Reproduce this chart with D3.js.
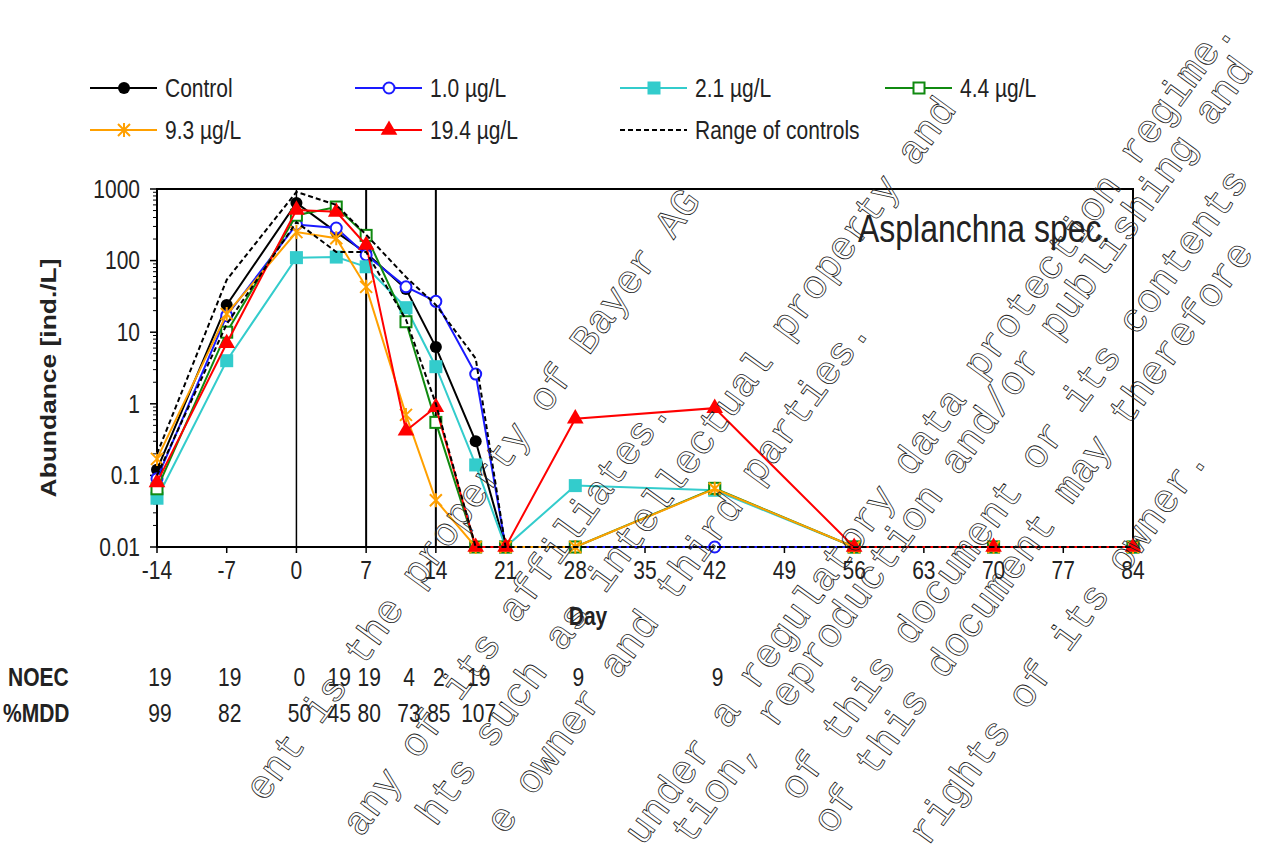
<!DOCTYPE html>
<html>
<head>
<meta charset="utf-8">
<script src="https://cdn.jsdelivr.net/npm/d3@7"></script>
<style>
  body { margin: 0; background: #fff; }
</style>
</head>
<body>
<div id="chart"></div>
<script>
// sampling days
const days = [-14, -7, 0, 4, 7, 11, 14, 18, 21, 28, 42, 56, 70, 84];

// abundance (ind./L), zero counts drawn at 0.01
const control = [0.12, 24, 640, 250, 128, 40, 6.2, 0.3, 0.01, 0.01, 0.01, 0.01, 0.01, 0.01];
const conc10 = [0.09, 17, 320, 285, 120, 43, 27, 2.6, 0.01, 0.01, 0.01, 0.01, 0.01, 0.01];
const conc21 = [0.048, 4.0, 110, 112, 82, 22, 3.3, 0.14, 0.01, 0.072, 0.062, 0.01, 0.01, 0.01];
const conc44 = [0.065, 10, 430, 560, 225, 14, 0.55, 0.01, 0.01, 0.01, 0.066, 0.01, 0.01, 0.01];
const conc93 = [0.17, 18, 250, 205, 43, 0.7, 0.045, 0.01, 0.01, 0.01, 0.065, 0.01, 0.01, 0.01];
const conc194 = [0.08, 7, 510, 480, 165, 0.42, 0.9, 0.01, 0.01, 0.62, 0.87, 0.01, 0.01, 0.01];
const rangeHigh = [0.2, 54, 910, 600, 230, 59, 24, 4.3, 0.01, 0.01, 0.01, 0.01, 0.01, 0.01];
const rangeLow = [0.1, 13, 345, 132, 132, 15, 1.0, 0.01, 0.01, 0.01, 0.01, 0.01, 0.01, 0.01];

const seriesNames = ["Control", "1.0 µg/L", "2.1 µg/L", "4.4 µg/L", "9.3 µg/L", "19.4 µg/L"];
const seriesColors = ["#000000", "#1a1aff", "#33cccc", "#108a10", "#ffa000", "#ff0000"];
const seriesMarkers = ["dot", "ring", "square", "box", "star", "triangle"];

const xTicks = d3.range(-14, 85, 7);
const yTicks = [0.01, 0.1, 1, 10, 100, 1000];
const yTickLabels = ["0.01", "0.1", "1", "10", "100", "1000"];

const noecDays = [-14, -7, 0, 4, 7, 11, 14, 18, 28, 42];
const noecValues = ["19", "19", "0", "19", "19", "4", "2", "19", "9", "9"];
const mddDays = [-14, -7, 0, 4, 7, 11, 14, 18];
const mddValues = ["99", "82", "50", "45", "80", "73", "85", "107"];

// the parts of the diagonal notice that show on the page
const watermarkLines = [
  "ent is the property of Bayer AG",
  "any of its affiliates.",
  "hts such as intellectual property and",
  "e owner and third parties.",
  "under a regulatory data protection regime.",
  "tion, reproduction and/or publishing and",
  "of this document or its contents",
  "of this document may therefore",
  "rights of its owner."
];
// where each watermark line ends on the page
const watermarkEnds = [[692, 194], [662, 404], [948, 102], [862, 324], [1226, 24],
  [1245, 62], [1240, 174], [1245, 246], [1200, 452]];

const width = 1271, height = 855;
const font = "'Liberation Sans', Arial, sans-serif";
const sy = 1.2; // the source picture is a bit taller than wide

const svg = d3.select("#chart").append("svg")
  .attr("width", width)
  .attr("height", height);

const x = d3.scaleLinear().domain([-14, 84]).range([157, 1133]);
const y = d3.scaleLog().domain([0.01, 1000]).range([547, 189]);

function label(g, tx, ty, str, opts = {}) {
  return g.append("text")
    .attr("transform", `translate(${tx},${ty}) scale(1,${sy})` + (opts.rotate ? ` rotate(${opts.rotate})` : ""))
    .attr("text-anchor", opts.anchor || "start")
    .attr("dy", opts.dy || "0.35em")
    .style("font-family", font)
    .style("font-size", (opts.size || 21) + "px")
    .style("font-weight", opts.bold ? "bold" : "normal")
    .style("fill", "#222")
    .text(str);
}

// frame
const frame = svg.append("g");
frame.append("rect")
  .attr("x", x(-14)).attr("y", y(1000))
  .attr("width", x(84) - x(-14)).attr("height", y(0.01) - y(1000))
  .attr("fill", "none").attr("stroke", "#000").attr("stroke-width", 2);

// vertical markers at day 0, 7 and 14
frame.selectAll("line.vline")
  .data([0, 7, 14])
  .enter().append("line")
  .attr("x1", d => x(d)).attr("x2", d => x(d))
  .attr("y1", y(1000)).attr("y2", y(0.01))
  .attr("stroke", "#000").attr("stroke-width", (d, i) => i === 0 ? 1.5 : 2);

// y ticks
const minor = [];
[0.01, 0.1, 1, 10, 100].forEach(d => { for (let k = 2; k <= 9; k++) minor.push(d * k); });
frame.selectAll("line.minor").data(minor).enter().append("line")
  .attr("x1", x(-14) - 4).attr("x2", x(-14))
  .attr("y1", d => y(d)).attr("y2", d => y(d))
  .attr("stroke", "#000").attr("stroke-width", 1);
frame.selectAll("line.major").data(yTicks).enter().append("line")
  .attr("x1", x(-14) - 7).attr("x2", x(-14))
  .attr("y1", d => y(d)).attr("y2", d => y(d))
  .attr("stroke", "#000").attr("stroke-width", 1.5);
yTicks.forEach((t, i) => label(frame, 140, y(t), yTickLabels[i], { anchor: "end" }));

// x ticks
frame.selectAll("line.xtick").data(xTicks).enter().append("line")
  .attr("x1", d => x(d)).attr("x2", d => x(d))
  .attr("y1", y(0.01)).attr("y2", y(0.01) + 6)
  .attr("stroke", "#000").attr("stroke-width", 1.5);
xTicks.forEach(t => label(frame, x(t), 570, String(t), { anchor: "middle" }));

label(svg, 48, 378, "Abundance [ind./L]", { anchor: "middle", bold: true, rotate: -90, size: 22 });
label(svg, 588, 616, "Day", { anchor: "middle", bold: true });
label(svg, 858, 229, "Asplanchna spec.", { size: 32 });

// series
const seriesValues = [control, conc10, conc21, conc44, conc93, conc194];
const line = d3.line().x(d => x(d.day)).y(d => y(d.v));

function drawMarker(g, type, color) {
  if (type === "dot") {
    g.append("circle").attr("r", 6).attr("fill", color);
  } else if (type === "ring") {
    g.append("circle").attr("r", 5.5).attr("fill", "#fff").attr("stroke", color).attr("stroke-width", 2);
  } else if (type === "square") {
    g.append("rect").attr("x", -6.5).attr("y", -6.5).attr("width", 13).attr("height", 13).attr("fill", color);
  } else if (type === "box") {
    g.append("rect").attr("x", -5.5).attr("y", -5.5).attr("width", 11).attr("height", 11)
      .attr("fill", "#fff").attr("stroke", color).attr("stroke-width", 2);
  } else if (type === "star") {
    g.append("path").attr("d", "M-6,-6L6,6M-6,6L6,-6M0,-7L0,7")
      .attr("stroke", color).attr("stroke-width", 2).attr("fill", "none");
  } else if (type === "triangle") {
    g.append("path").attr("d", d3.symbol(d3.symbolTriangle, 120)()).attr("fill", color);
  }
}

const plot = svg.append("g");
seriesValues.forEach((vals, i) => {
  const pts = days.map((d, j) => ({ day: d, v: vals[j] }));
  plot.append("path")
    .attr("d", line(pts))
    .attr("fill", "none")
    .attr("stroke", seriesColors[i])
    .attr("stroke-width", 2);
  pts.forEach(p => {
    const g = plot.append("g").attr("transform", `translate(${x(p.day)},${y(p.v)})`);
    drawMarker(g, seriesMarkers[i], seriesColors[i]);
  });
});

[rangeHigh, rangeLow].forEach(vals => {
  plot.append("path")
    .attr("d", line(days.map((d, j) => ({ day: d, v: vals[j] }))))
    .attr("fill", "none")
    .attr("stroke", "#000")
    .attr("stroke-width", 2)
    .attr("stroke-dasharray", "5,3");
});

// legend
const legendX = [90, 355, 620, 885];
const legendRows = [88, 130];
const legendItems = seriesNames.map((name, i) => ({ name, color: seriesColors[i], marker: seriesMarkers[i] }));
legendItems.push({ name: "Range of controls", color: "#000", marker: null, dashed: true });
legendItems.forEach((d, i) => {
  const col = i < 4 ? i : i - 4;
  const row = i < 4 ? 0 : 1;
  const lx = legendX[col], ly = legendRows[row];
  const g = svg.append("g").attr("transform", `translate(${lx},${ly})`);
  g.append("line").attr("x1", 0).attr("x2", 67).attr("y1", 0).attr("y2", 0)
    .attr("stroke", d.color).attr("stroke-width", 2)
    .attr("stroke-dasharray", d.dashed ? "5,3" : null);
  if (d.marker) {
    drawMarker(g.append("g").attr("transform", "translate(34,0)"), d.marker, d.color);
  }
  label(svg, lx + 75, ly, d.name);
});

// NOEC / %MDD rows
label(svg, 8, 677, "NOEC", { bold: true });
label(svg, 3, 713, "%MDD", { bold: true });
noecDays.forEach((d, i) => label(svg, x(d) + 3, 677, noecValues[i], { anchor: "middle" }));
mddDays.forEach((d, i) => label(svg, x(d) + 3, 713, mddValues[i], { anchor: "middle" }));

// watermark
const wm = svg.append("g");
watermarkLines.forEach((t, i) => {
  wm.append("text")
    .attr("transform", `translate(${watermarkEnds[i][0]},${watermarkEnds[i][1]}) rotate(-54)`)
    .attr("text-anchor", "end")
    .attr("dy", "0.3em")
    .style("font-family", "'Liberation Mono', monospace")
    .style("font-size", "40px")
    .style("fill", "none")
    .style("stroke", "#222")
    .style("stroke-width", 0.8)
    .text(t);
});
</script>
</body>
</html>
